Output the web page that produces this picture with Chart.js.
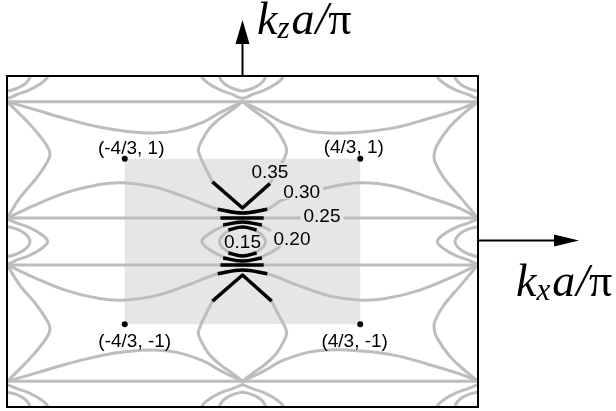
<!DOCTYPE html>
<html>
<head>
<meta charset="utf-8">
<script src="https://cdn.jsdelivr.net/npm/chart.js@4/dist/chart.umd.min.js"></script>
<style>
  html, body { margin: 0; padding: 0; background: #fff; }
  canvas { display: block; }
</style>
</head>
<body>
<canvas id="isoChart" width="616" height="411"></canvas>
<script>
// isofrequency contours, kx a/pi vs kz a/pi
const kxRange = [-8 / 3, 8 / 3];
const kzRange = [-2, 2];
const zoneX = [-4 / 3, 4 / 3];
const zoneZ = [-1, 1];

const cornerPts = [[-4 / 3, 1], [4 / 3, 1], [-4 / 3, -1], [4 / 3, -1]];
const cornerText = ['(-4/3, 1)', '(4/3, 1)', '(-4/3, -1)', '(4/3, -1)'];
const cornerTextPos = [[-1.26, 1.14], [1.26, 1.15], [-1.22, -1.19], [1.27, -1.19]];

const levelText = ['0.35', '0.30', '0.25', '0.20', '0.15'];
const levelTextPos = [[0.31, 0.85], [0.67, 0.61], [0.90, 0.32], [0.56, 0.04], [0, 0.01]];
const levelTextBg = [true, true, true, true, false];

// 0.25 : straight lines
const line025Z = [1.69, 0.284, -0.284, -1.69];

// 0.30 lobes
const lobe30Up = [[-2.667, 0.28], [-2.37, 0.43], [-2.0, 0.59], [-1.62, 0.69], [-1.35, 0.71], [-1.0, 0.66], [-0.63, 0.53], [-0.28, 0.39], [0, 0.345], [0.28, 0.39], [0.45, 0.50], [0.96, 0.65], [1.33, 0.71], [1.70, 0.67], [2.09, 0.54], [2.46, 0.40], [2.667, 0.28]];
const lobe30Down = [[-2.667, -0.28], [-2.37, -0.43], [-2.0, -0.59], [-1.62, -0.69], [-1.35, -0.71], [-1.0, -0.66], [-0.63, -0.53], [-0.28, -0.39], [0, -0.345], [0.28, -0.39], [0.63, -0.53], [1.0, -0.66], [1.35, -0.71], [1.62, -0.69], [2.0, -0.59], [2.37, -0.43], [2.667, -0.28]];
const lobe30TopL = [[-2.667, 1.69], [-2.37, 1.60], [-1.99, 1.48], [-1.61, 1.38], [-1.3, 1.33], [-1.0, 1.31], [-0.74, 1.34], [-0.45, 1.44], [-0.25, 1.56], [0, 1.69]];
const lobe30TopR = [[0, 1.69], [0.25, 1.56], [0.45, 1.44], [0.74, 1.34], [1.0, 1.31], [1.3, 1.32], [1.70, 1.37], [2.09, 1.48], [2.46, 1.60], [2.667, 1.69]];
const lobe30BotL = [[-2.667, -1.69], [-2.37, -1.60], [-1.99, -1.48], [-1.61, -1.38], [-1.3, -1.33], [-1.0, -1.31], [-0.74, -1.34], [-0.45, -1.44], [-0.25, -1.56], [0, -1.69]];
const lobe30BotR = [[0, -1.69], [0.25, -1.56], [0.45, -1.44], [0.74, -1.34], [1.0, -1.31], [1.3, -1.32], [1.70, -1.37], [2.09, -1.48], [2.46, -1.60], [2.667, -1.69]];

// 0.35 : diamonds
const diamondUL = [[-0.34, 0.72], [-0.42, 0.89], [-0.48, 1.03], [-0.50, 1.11], [-0.47, 1.20], [-0.38, 1.36], [-0.25, 1.49], [-0.12, 1.59], [0, 1.69]];
const diamondUR = [[0.31, 0.70], [0.40, 0.87], [0.48, 1.02], [0.50, 1.11], [0.47, 1.20], [0.38, 1.36], [0.25, 1.49], [0.12, 1.59], [0, 1.69]];
const diamondLL = [[-0.34, -0.72], [-0.42, -0.89], [-0.48, -1.03], [-0.50, -1.11], [-0.47, -1.20], [-0.38, -1.36], [-0.25, -1.49], [-0.12, -1.59], [0, -1.69]];
const diamondLR = [[0.33, -0.72], [0.41, -0.89], [0.48, -1.03], [0.50, -1.11], [0.47, -1.20], [0.38, -1.36], [0.25, -1.49], [0.12, -1.59], [0, -1.69]];
const edgeDiamondUL = [[-2.667, 0.28], [-2.52, 0.53], [-2.33, 0.77], [-2.21, 0.96], [-2.18, 1.05], [-2.21, 1.15], [-2.37, 1.37], [-2.55, 1.57], [-2.667, 1.69]];
const edgeDiamondUR = [[2.667, 0.28], [2.47, 0.53], [2.28, 0.77], [2.18, 0.96], [2.17, 1.05], [2.20, 1.16], [2.35, 1.39], [2.54, 1.58], [2.667, 1.69]];
const edgeDiamondLL = [[-2.667, -0.28], [-2.52, -0.53], [-2.33, -0.77], [-2.21, -0.96], [-2.18, -1.05], [-2.21, -1.15], [-2.37, -1.37], [-2.55, -1.57], [-2.667, -1.69]];
const edgeDiamondLR = [[2.667, -0.28], [2.47, -0.53], [2.28, -0.77], [2.18, -0.96], [2.17, -1.05], [2.20, -1.16], [2.35, -1.39], [2.54, -1.58], [2.667, -1.69]];

// 0.20 / 0.15 : closed loops, shape relative to each centre
const loop020 = [[0, 0.27], [0.12, 0.22], [0.25, 0.17], [0.37, 0.10], [0.46, 0], [0.37, -0.10], [0.25, -0.17], [0.12, -0.22], [0, -0.27], [-0.12, -0.22], [-0.25, -0.17], [-0.37, -0.10], [-0.46, 0], [-0.37, 0.10], [-0.25, 0.17], [-0.12, 0.22], [0, 0.27]];
const loop015 = [[0, 0.18], [0.11, 0.15], [0.21, 0.09], [0.26, 0], [0.21, -0.09], [0.11, -0.15], [0, -0.18], [-0.11, -0.15], [-0.21, -0.09], [-0.26, 0], [-0.21, 0.09], [-0.11, 0.15], [0, 0.18]];
const loopCentres = [[0, 0], [-8 / 3, 0], [8 / 3, 0], [0, 2], [0, -2], [-8 / 3, 2], [8 / 3, 2], [-8 / 3, -2], [8 / 3, -2]];

// black close-up near the singular points
const blackVUp = [[-0.34, 0.72], [0, 0.405], [0.31, 0.70]];
const blackArc30Up = [[-0.28, 0.39], [0, 0.345], [0.28, 0.39]];
const blackBarUp = [[-0.25, 0.284], [0.24, 0.284]];
const blackArc20Up = [[-0.22, 0.20], [0, 0.235], [0.22, 0.20]];
const blackArc15Up = [[-0.16, 0.14], [0, 0.175], [0.16, 0.14]];
const blackVDown = [[-0.34, -0.72], [0, -0.405], [0.33, -0.72]];
const blackArc30Down = [[-0.28, -0.39], [0, -0.345], [0.28, -0.39]];
const blackBarDown = [[-0.25, -0.284], [0.24, -0.284]];
const blackArc20Down = [[-0.22, -0.20], [0, -0.235], [0.22, -0.20]];
const blackArc15Down = [[-0.16, -0.14], [0, -0.175], [0.16, -0.14]];

const GRAY = '#bdbdbd';
const SHADE = '#e6e6e6';

function pts(arr) {
  return arr.map(p => ({ x: p[0], y: p[1] }));
}

function grayCurve(arr) {
  return {
    data: pts(arr), showLine: true, borderColor: GRAY, borderWidth: 3,
    pointRadius: 0, tension: 0.4, fill: false, order: 3, clip: 0,
    borderCapStyle: 'round', borderJoinStyle: 'round'
  };
}

function blackCurve(arr, tension) {
  return {
    data: pts(arr), showLine: true, borderColor: '#000', borderWidth: 3.5,
    pointRadius: 0, tension: tension, fill: false, order: 1, clip: 0,
    borderCapStyle: 'butt', borderJoinStyle: 'round'
  };
}

const datasets = [];
line025Z.forEach(z => datasets.push(grayCurve([[kxRange[0], z], [kxRange[1], z]])));
[lobe30Up, lobe30Down, lobe30TopL, lobe30TopR, lobe30BotL, lobe30BotR,
 diamondUL, diamondUR, diamondLL, diamondLR,
 edgeDiamondUL, edgeDiamondUR, edgeDiamondLL, edgeDiamondLR].forEach(c => datasets.push(grayCurve(c)));
loopCentres.forEach(c => {
  [loop020, loop015].forEach(shape => {
    datasets.push(grayCurve(shape.map(p => [p[0] + c[0], p[1] + c[1]])));
  });
});
datasets.push(blackCurve(blackVUp, 0), blackCurve(blackVDown, 0));
datasets.push(blackCurve(blackBarUp, 0), blackCurve(blackBarDown, 0));
[blackArc30Up, blackArc20Up, blackArc15Up, blackArc30Down, blackArc20Down, blackArc15Down]
  .forEach(c => datasets.push(blackCurve(c, 0.4)));
datasets.push({
  data: pts(cornerPts), showLine: false, pointRadius: 3, pointBackgroundColor: '#000',
  pointBorderWidth: 0, order: 0, clip: false
});

const deco = {
  id: 'deco',
  beforeDatasetsDraw(chart) {
    const { ctx, scales: { x, y } } = chart;
    const x0 = x.getPixelForValue(zoneX[0]), x1 = x.getPixelForValue(zoneX[1]);
    const y0 = y.getPixelForValue(zoneZ[1]), y1 = y.getPixelForValue(zoneZ[0]);
    ctx.save();
    ctx.fillStyle = SHADE;
    ctx.fillRect(x0, y0, x1 - x0, y1 - y0);
    ctx.restore();
  },
  afterDatasetsDraw(chart) {
    const { ctx, chartArea: a, scales: { x, y } } = chart;
    ctx.save();
    ctx.font = '19px "Liberation Sans", Arial, sans-serif';
    ctx.textAlign = 'center';
    ctx.textBaseline = 'alphabetic';
    levelText.forEach((t, i) => {
      const px = x.getPixelForValue(levelTextPos[i][0]);
      const py = y.getPixelForValue(levelTextPos[i][1]);
      if (levelTextBg[i]) {
        const w = ctx.measureText(t).width;
        ctx.fillStyle = SHADE;
        ctx.fillRect(px - w / 2 - 3, py - 8, w + 6, 16);
      }
      ctx.fillStyle = '#000';
      ctx.fillText(t, px, py + 7);
    });
    cornerText.forEach((t, i) => {
      const px = x.getPixelForValue(cornerTextPos[i][0]);
      const py = y.getPixelForValue(cornerTextPos[i][1]);
      ctx.fillStyle = '#000';
      ctx.fillText(t, px, py + 7);
    });

    // frame
    ctx.strokeStyle = '#000';
    ctx.lineWidth = 2;
    ctx.strokeRect(a.left, a.top, a.right - a.left, a.bottom - a.top);

    // axis arrows
    const ox = x.getPixelForValue(0);
    const oy = y.getPixelForValue(0) - 1;
    ctx.fillStyle = '#000';
    ctx.beginPath();
    ctx.moveTo(ox, a.top);
    ctx.lineTo(ox, 42);
    ctx.stroke();
    ctx.beginPath();
    ctx.moveTo(ox, 20);
    ctx.lineTo(ox - 7, 44);
    ctx.lineTo(ox + 7, 44);
    ctx.closePath();
    ctx.fill();

    ctx.beginPath();
    ctx.moveTo(a.right, oy);
    ctx.lineTo(556, oy);
    ctx.stroke();
    ctx.beginPath();
    ctx.moveTo(579, oy);
    ctx.lineTo(554, oy - 6);
    ctx.lineTo(554, oy + 6);
    ctx.closePath();
    ctx.fill();

    // axis titles
    drawTitle(ctx, 257, 34, 'z');
    drawTitle(ctx, 516, 296, 'x');
    ctx.restore();
  }
};

function drawTitle(ctx, x0, base, sub) {
  const serif = '"Liberation Serif", "Times New Roman", serif';
  ctx.textAlign = 'left';
  ctx.textBaseline = 'alphabetic';
  ctx.fillStyle = '#000';
  let cx = x0;
  ctx.font = 'italic 46px ' + serif;
  ctx.fillText('k', cx, base);
  cx += ctx.measureText('k').width;
  ctx.font = 'italic 31px ' + serif;
  ctx.fillText(sub, cx, base + 4);
  cx += ctx.measureText(sub).width + 2;
  ctx.font = 'italic 46px ' + serif;
  ctx.fillText('a', cx, base);
  cx += ctx.measureText('a').width + 1;
  ctx.fillText('/', cx, base);
  cx += ctx.measureText('/').width;
  ctx.font = '46px ' + serif;
  ctx.fillText('π', cx, base);
}

new Chart(document.getElementById('isoChart').getContext('2d'), {
  type: 'scatter',
  data: { datasets: datasets },
  options: {
    responsive: false,
    animation: false,
    layout: { padding: { left: 7, right: 138, top: 76, bottom: 4 } },
    scales: {
      x: { type: 'linear', min: kxRange[0], max: kxRange[1], display: false },
      y: { type: 'linear', min: kzRange[0], max: kzRange[1], display: false }
    },
    plugins: { legend: { display: false }, tooltip: { enabled: false } },
    events: []
  },
  plugins: [deco]
});
</script>
</body>
</html>
